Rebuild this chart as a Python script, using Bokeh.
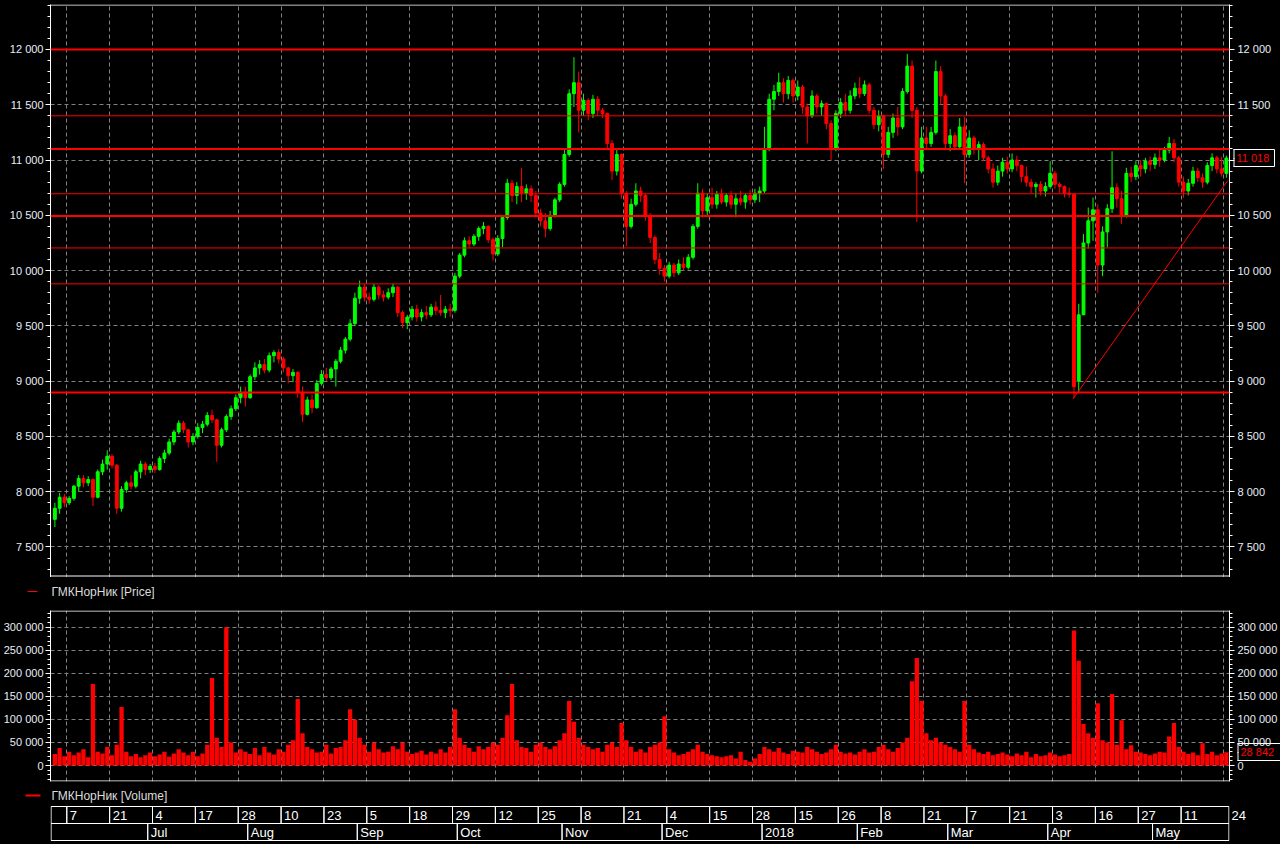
from bokeh.plotting import figure
from bokeh.layouts import column
from bokeh.models import (ColumnDataSource, Range1d, LinearAxis, FixedTicker, Grid, Span)
from bokeh.embed import file_html
from bokeh.resources import INLINE
from bokeh.core.properties import value

# ---------------- data (daily bars, 2 Jun 2017 .. 24 May 2018) ----------------
open_ = [7750, 7850, 7950, 7900, 7940, 8050, 8120, 8080, 8110, 7950,
         8180, 8250, 8320, 8240, 7850, 8020, 8080, 8050, 8180, 8250,
         8200, 8230, 8200, 8300, 8350, 8450, 8540, 8620, 8560, 8450,
         8500, 8580, 8610, 8690, 8650, 8420, 8560, 8680, 8750, 8850,
         8900, 8850, 9040, 9120, 9150, 9100, 9230, 9260, 9200, 9120,
         9050, 9080, 8900, 8700, 8830, 8760, 8980, 9060, 9030, 9110,
         9180, 9280, 9380, 9520, 9750, 9850, 9760, 9740, 9850, 9780,
         9760, 9800, 9850, 9620, 9530, 9580, 9650, 9580, 9620, 9600,
         9670, 9640, 9620, 9650, 9640, 9950, 10140, 10270, 10240, 10310,
         10380, 10400, 10280, 10150, 10290, 10480, 10790, 10680, 10760, 10700,
         10740, 10680, 10520, 10450, 10380, 10500, 10640, 10780, 11050, 11600,
         11700, 11450, 11540, 11420, 11550, 11450, 11420, 11150, 10900, 11050,
         10700, 10400, 10600, 10720, 10680, 10500, 10300, 10100, 10020, 9950,
         10050, 9980, 10060, 10030, 10120, 10400, 10700, 10540, 10660, 10600,
         10690, 10620, 10680, 10600, 10650, 10620, 10680, 10640, 10700, 10720,
         11100, 11550, 11620, 11700, 11600, 11720, 11580, 11660, 11480, 11400,
         11580, 11480, 11510, 11330, 11100, 11420, 11520, 11450, 11580, 11650,
         11600, 11680, 11450, 11320, 11400, 11050, 11250, 11380, 11300, 11620,
         11850, 11450, 10900, 11200, 11150, 11250, 11800, 11580, 11150, 11220,
         11120, 11300, 11050, 11200, 11100, 11140, 11020, 10920, 10800, 10900,
         10980, 10920, 11000, 10950, 10850, 10800, 10760, 10780, 10720, 10760,
         10880, 10780, 10760, 10700, 10690, 9000, 9600, 10250, 10450, 10550,
         10050, 10350, 10560, 10750, 10650, 10500, 10880, 10850, 10950, 10920,
         10990, 10960, 11020, 11000, 11090, 11150, 11020, 10800, 10720, 10790,
         10900, 10840, 10800, 10950, 11020, 10920, 10880]
high_ = [7900, 7990, 7980, 7960, 8060, 8150, 8150, 8140, 8120, 8200,
         8290, 8375, 8340, 8250, 8050, 8100, 8150, 8200, 8280, 8270,
         8250, 8260, 8320, 8380, 8480, 8560, 8645, 8640, 8570, 8530,
         8620, 8640, 8720, 8740, 8660, 8580, 8700, 8780, 8880, 8950,
         8950, 9060, 9170, 9190, 9200, 9260, 9280, 9290, 9220, 9130,
         9110, 9090, 8950, 8860, 8880, 9010, 9100, 9120, 9130, 9200,
         9310, 9400, 9560, 9800, 9910, 9880, 9800, 9880, 9870, 9820,
         9840, 9880, 9860, 9640, 9600, 9680, 9690, 9650, 9680, 9700,
         9720, 9780, 9680, 9700, 9980, 10160, 10300, 10310, 10330, 10400,
         10440, 10410, 10300, 10320, 10500, 10830, 10820, 10800, 10930, 10780,
         10770, 10720, 10560, 10520, 10540, 10660, 10800, 11090, 11640, 11930,
         11800, 11600, 11560, 11590, 11580, 11470, 11430, 11180, 11100, 11060,
         10720, 10650, 10790, 10760, 10700, 10520, 10320, 10160, 10050, 10080,
         10070, 10100, 10120, 10150, 10420, 10790, 10740, 10700, 10750, 10720,
         10740, 10700, 10720, 10700, 10720, 10700, 10730, 10740, 10760, 11300,
         11600, 11680, 11790, 11740, 11760, 11740, 11720, 11680, 11510, 11630,
         11600, 11540, 11520, 11360, 11450, 11560, 11600, 11630, 11700, 11750,
         11720, 11700, 11480, 11450, 11410, 11300, 11420, 11480, 11650, 11960,
         11900, 11480, 11300, 11300, 11300, 11900, 11850, 11600, 11280, 11250,
         11380, 11390, 11270, 11220, 11170, 11160, 11040, 10970, 10950, 11020,
         11030, 11060, 11040, 10960, 10940, 10830, 10800, 10810, 10800, 10990,
         10900, 10800, 10770, 10750, 10700, 9700, 10330, 10570, 10660, 10600,
         10400, 10600, 11080, 10790, 10720, 10930, 10940, 10990, 11000, 11020,
         11030, 11060, 11110, 11120, 11210, 11190, 11040, 10850, 10830, 10940,
         10930, 10880, 10980, 11060, 11040, 11030, 11040]
low_ = [7680, 7800, 7860, 7880, 7920, 8000, 8040, 8050, 7870, 7940,
        8150, 8200, 8210, 7800, 7820, 7990, 8020, 8030, 8120, 8150,
        8170, 8170, 8190, 8260, 8330, 8420, 8520, 8530, 8400, 8420,
        8480, 8530, 8590, 8620, 8270, 8400, 8540, 8650, 8730, 8800,
        8770, 8840, 9010, 9060, 9070, 9080, 9170, 9160, 9080, 8980,
        8990, 8850, 8630, 8690, 8710, 8750, 8960, 9000, 9010, 8950,
        9160, 9250, 9360, 9500, 9700, 9720, 9700, 9720, 9740, 9720,
        9740, 9760, 9580, 9480, 9470, 9550, 9540, 9540, 9560, 9580,
        9600, 9590, 9570, 9580, 9620, 9930, 10120, 10200, 10220, 10270,
        10330, 10250, 10090, 10130, 10210, 10460, 10620, 10600, 10620, 10640,
        10620, 10480, 10400, 10300, 10360, 10480, 10620, 10760, 11030, 11480,
        11250, 11400, 11360, 11380, 11400, 11380, 11090, 10820, 10860, 10650,
        10220, 10380, 10580, 10620, 10450, 10250, 10060, 9960, 9900, 9930,
        9940, 9960, 10000, 10010, 10100, 10380, 10480, 10500, 10560, 10560,
        10600, 10580, 10560, 10480, 10590, 10560, 10600, 10610, 10620, 10700,
        11080, 11450, 11580, 11520, 11550, 11520, 11540, 11420, 11150, 11380,
        11420, 11400, 11280, 11000, 11080, 11380, 11400, 11420, 11550, 11560,
        11580, 11420, 11280, 11260, 10920, 11020, 11200, 11220, 11280, 11600,
        11380, 10440, 10880, 11100, 11120, 11230, 11500, 11100, 11080, 11090,
        11100, 10790, 11020, 11050, 11000, 10990, 10880, 10750, 10770, 10850,
        10880, 10890, 10900, 10800, 10760, 10700, 10660, 10680, 10670, 10740,
        10740, 10700, 10660, 10660, 8845, 8900, 9600, 10200, 10270, 9800,
        9950, 10210, 10520, 10570, 10420, 10480, 10800, 10820, 10850, 10880,
        10900, 10920, 10940, 10980, 11060, 10980, 10760, 10660, 10680, 10760,
        10800, 10750, 10780, 10900, 10880, 10850, 10840]
close_ = [7850, 7950, 7900, 7940, 8050, 8120, 8080, 8110, 7950, 8180,
          8250, 8320, 8240, 7850, 8020, 8080, 8050, 8180, 8250, 8200,
          8230, 8200, 8300, 8350, 8450, 8540, 8620, 8560, 8450, 8500,
          8580, 8610, 8690, 8650, 8420, 8560, 8680, 8750, 8850, 8900,
          8850, 9040, 9120, 9150, 9100, 9230, 9260, 9200, 9120, 9050,
          9080, 8900, 8700, 8830, 8760, 8980, 9060, 9030, 9110, 9180,
          9280, 9380, 9520, 9750, 9850, 9760, 9740, 9850, 9780, 9760,
          9800, 9850, 9620, 9530, 9580, 9650, 9580, 9620, 9600, 9670,
          9640, 9620, 9650, 9640, 9950, 10140, 10270, 10240, 10310, 10380,
          10400, 10280, 10150, 10290, 10480, 10790, 10680, 10760, 10700, 10740,
          10680, 10520, 10450, 10380, 10500, 10640, 10780, 11050, 11600, 11700,
          11450, 11540, 11420, 11550, 11450, 11420, 11150, 10900, 11050, 10700,
          10400, 10600, 10720, 10680, 10500, 10300, 10100, 10020, 9950, 10050,
          9980, 10060, 10030, 10120, 10400, 10700, 10540, 10660, 10600, 10690,
          10620, 10680, 10600, 10650, 10620, 10680, 10640, 10700, 10720, 11100,
          11550, 11620, 11700, 11600, 11720, 11580, 11660, 11480, 11400, 11580,
          11480, 11510, 11330, 11100, 11420, 11520, 11450, 11580, 11650, 11600,
          11680, 11450, 11320, 11400, 11050, 11250, 11380, 11300, 11620, 11850,
          11450, 10900, 11200, 11150, 11250, 11800, 11580, 11150, 11220, 11120,
          11300, 11050, 11200, 11100, 11140, 11020, 10920, 10800, 10900, 10980,
          10920, 11000, 10950, 10850, 10800, 10760, 10780, 10720, 10760, 10880,
          10780, 10760, 10700, 10690, 8950, 9600, 10250, 10450, 10550, 10050,
          10350, 10560, 10750, 10650, 10500, 10880, 10850, 10950, 10920, 10990,
          10960, 11020, 11000, 11090, 11150, 11020, 10800, 10720, 10790, 10900,
          10840, 10800, 10950, 11020, 10920, 10880, 11018]
volume = [25000, 38000, 20000, 30000, 22000, 28000, 35000, 18000, 177000, 30000,
          26000, 40000, 22000, 45000, 127000, 30000, 20000, 25000, 18000, 22000,
          28000, 20000, 24000, 30000, 19000, 26000, 35000, 28000, 22000, 30000,
          20000, 26000, 45000, 190000, 60000, 40000, 300000, 50000, 28000, 35000,
          30000, 25000, 38000, 22000, 40000, 28000, 24000, 35000, 30000, 45000,
          55000, 144000, 70000, 40000, 35000, 28000, 30000, 45000, 26000, 38000,
          40000, 55000, 122000, 100000, 60000, 45000, 30000, 50000, 35000, 28000,
          30000, 42000, 35000, 50000, 30000, 25000, 28000, 32000, 24000, 30000,
          26000, 35000, 28000, 40000, 122000, 60000, 45000, 38000, 30000, 42000,
          35000, 40000, 50000, 45000, 60000, 109000, 177000, 55000, 40000, 38000,
          30000, 45000, 50000, 40000, 35000, 42000, 55000, 70000, 140000, 95000,
          60000, 45000, 40000, 35000, 38000, 30000, 45000, 50000, 40000, 92000,
          55000, 40000, 30000, 35000, 28000, 40000, 45000, 50000, 107000, 35000,
          28000, 22000, 25000, 30000, 35000, 45000, 30000, 25000, 22000, 20000,
          18000, 20000, 22000, 15000, 30000, 12000, 8000, 15000, 25000, 40000,
          35000, 30000, 38000, 28000, 25000, 32000, 30000, 28000, 40000, 35000,
          30000, 25000, 28000, 35000, 45000, 30000, 26000, 28000, 24000, 30000,
          35000, 28000, 30000, 40000, 45000, 35000, 30000, 38000, 50000, 60000,
          183000, 233000, 140000, 70000, 55000, 60000, 50000, 45000, 40000, 35000,
          30000, 140000, 45000, 35000, 28000, 25000, 30000, 22000, 25000, 28000,
          24000, 20000, 26000, 22000, 30000, 18000, 25000, 20000, 22000, 28000,
          24000, 20000, 22000, 25000, 293000, 227000, 90000, 70000, 60000, 135000,
          55000, 50000, 155000, 45000, 98000, 35000, 44000, 30000, 28000, 25000,
          22000, 26000, 30000, 28000, 63000, 92000, 40000, 30000, 25000, 28000,
          22000, 48000, 25000, 30000, 22000, 26000, 28842]

# date axis (bar index of the labelled day)
tick_bars = [3, 12, 21, 30, 39, 48, 57, 66, 75, 84, 93, 102, 111, 120, 129, 138,
             147, 156, 165, 174, 183, 192, 201, 210, 219, 228, 237, 246]
tick_labels = ["7", "21", "4", "17", "28", "10", "23", "5", "18", "29", "12", "25", "8",
               "21", "4", "15", "28", "15", "26", "8", "21", "7", "21", "3", "16", "27",
               "11", "24"]
month_bars = [20, 41, 64, 85, 107, 128, 149, 169, 188, 209, 231]
month_labels = ["Jul", "Aug", "Sep", "Oct", "Nov", "Dec", "2018", "Feb", "Mar", "Apr", "May"]

# drawn levels and trend line
levels = [12000, 11400, 11100, 10695, 10495, 10205, 9880, 8897]
level_widths = [2, 1, 2, 1, 2, 1, 1, 2]
trend_x = [213.8, 246.3]
trend_y = [8840, 10814]

price_ticks = [7500, 8000, 8500, 9000, 9500, 10000, 10500, 11000, 11500, 12000]
vol_ticks = [0, 50000, 100000, 150000, 200000, 250000, 300000]
series_names = ["ГМКНорНик [Price]", "ГМКНорНик [Volume]"]

# ---------------- styling ----------------
BG = "#000000"
FONT = "Liberation Sans"
LABEL_COL = "#e8eef8"
GRID_COL = "#808080"
W = 1280
LB, RB = 49, 49
x_lo, x_hi = -0.92, 246.66


def fmt(v):
    return f"{int(round(v)):,}".replace(",", " ")


def style_axis(ax, standoff=2):
    ax.axis_line_color = "white"
    ax.major_tick_line_color = "white"
    ax.minor_tick_line_color = "white"
    ax.major_tick_in = 0
    ax.major_tick_out = 5
    ax.minor_tick_in = 0
    ax.minor_tick_out = 3
    ax.major_label_text_color = LABEL_COL
    ax.major_label_text_font = FONT
    ax.major_label_text_font_size = "11px"
    ax.major_label_standoff = standoff


def value_tag(fig, yv, units_per_px, standoff):
    """last-value tag: a second right axis whose single red label is pulled back over
    the first axis' label column and boxed by its own ticks and axis line"""
    half = 8.5 * units_per_px
    lo, hi = yv - half, yv + half
    n_edge = 17
    edge = [lo + (hi - lo) * k / n_edge for k in range(n_edge + 1)]
    ticks = sorted(set(edge + [yv]))
    labels = {t: "" for t in ticks}
    labels[yv] = fmt(yv)
    left = -standoff + 3                 # box left edge, px back from the axis line
    ax = LinearAxis(ticker=FixedTicker(ticks=ticks, minor_ticks=[lo, hi]),
                    major_label_overrides=labels, bounds=(lo, hi))
    ax.axis_line_color = "white"
    ax.major_tick_line_color = "white"
    ax.major_tick_in = left
    ax.major_tick_out = -(left - 1)
    ax.minor_tick_line_color = "white"
    ax.minor_tick_in = left
    ax.minor_tick_out = 0
    ax.major_label_text_color = "#ff0000"
    ax.major_label_text_font = FONT
    ax.major_label_text_font_size = "11px"
    ax.major_label_standoff = standoff
    fig.add_layout(ax, "right")


def swatch(fig, yv, out, inn, width):
    """red legend swatch: a single tick of a left axis, left of the frame"""
    ax = LinearAxis(ticker=FixedTicker(ticks=[yv], minor_ticks=[]),
                    major_label_overrides={yv: ""})
    ax.axis_line_color = None
    ax.minor_tick_line_color = None
    ax.major_tick_line_color = "#ff0000"
    ax.major_tick_line_width = width
    ax.major_tick_out = out
    ax.major_tick_in = inn
    ax.major_label_standoff = 0
    fig.add_layout(ax, "left")


def panel(h, xr, yr, top=0, bottom=0, fill=BG):
    f = figure(width=W, height=h, x_range=xr, y_range=yr, output_backend="svg",
               toolbar_location=None, x_axis_location=None, y_axis_location=None,
               min_border_left=LB, min_border_right=RB, min_border_top=top,
               min_border_bottom=bottom, background_fill_color=fill,
               border_fill_color=fill, outline_line_color=None)
    f.center = [c for c in f.center if not isinstance(c, Grid)]
    return f


n = len(close_)
xs = list(range(n))
colors = ["#00ff00" if c >= o else "#ff0000" for o, c in zip(open_, close_)]
src = ColumnDataSource(dict(
    x=xs, h=high_, l=low_,
    top=[max(o, c) for o, c in zip(open_, close_)],
    bot=[min(o, c) for o, c in zip(open_, close_)],
    color=colors))

grid_x = [t - 0.5 for t in tick_bars]

# ---------------- price panel (page y 0..576, frame 4..576) ----------------
P_TOP, P_BOT = 12407, 7224
p_px = (P_TOP - P_BOT) / 573.0
pp = panel(577, Range1d(x_lo, x_hi), Range1d(P_BOT, P_TOP), top=4)
pp.add_layout(Grid(dimension=0, ticker=FixedTicker(ticks=grid_x),
                   grid_line_color=GRID_COL, grid_line_dash="4 3"))
pp.add_layout(Grid(dimension=1, ticker=FixedTicker(ticks=price_ticks),
                   grid_line_color=GRID_COL, grid_line_dash="4 3"))
p_minor = list(range(7300, 12500, 100))
for side in ("left", "right"):
    labels = {t: fmt(t) for t in price_ticks}
    if side == "right":
        labels[11000] = ""          # hidden behind the last-price tag
    ax = LinearAxis(ticker=FixedTicker(ticks=price_ticks, minor_ticks=p_minor),
                    major_label_overrides=labels)
    style_axis(ax, 2 if side == "left" else 3)
    pp.add_layout(ax, side)
value_tag(pp, close_[-1], p_px, -38)
for loc in (P_TOP - 0.5 * p_px, P_BOT + 1.5 * p_px):
    pp.add_layout(Span(location=loc, dimension="width", line_color="white", line_width=1))

pp.segment(x0="x", y0="l", x1="x", y1="h", line_color="color", line_width=1, source=src)
pp.vbar(x="x", width=0.6, top="top", bottom="bot", fill_color="color",
        line_color="color", line_width=1, source=src)
for lv, lw in zip(levels, level_widths):
    pp.add_layout(Span(location=lv, dimension="width", line_color="#ff0000", line_width=lw))
pp.line(trend_x, trend_y, line_color="#ff0000", line_width=1)

# ---------------- price legend strip (page y 577..600) ----------------
s1 = panel(24, Range1d(x_lo, x_hi), Range1d(601, 577))
swatch(s1, 591, 23, -13, 1)
s1.text(x=[x_lo], y=[591], text=[series_names[0]], x_offset=1, text_color="#dcdcdc",
        text_font=value(FONT), text_font_size="12px", text_baseline="middle")

# ---------------- separator lines ----------------
sep_w = panel(1, Range1d(0, 1), Range1d(0, 1), fill="#ffffff")
sep_g = panel(1, Range1d(0, 1), Range1d(0, 1), fill="#a0a0a0")

# ---------------- volume panel (page y 603..781, frame 610..781) ----------------
V_TOP, V_BOT = 336200, -34700
v_px = (V_TOP - V_BOT) / 171.0
pv = panel(179, Range1d(x_lo, x_hi), Range1d(V_BOT, V_TOP), top=7, bottom=1)
pv.add_layout(Grid(dimension=0, ticker=FixedTicker(ticks=grid_x),
                   grid_line_color=GRID_COL, grid_line_dash="4 3"))
pv.add_layout(Grid(dimension=1, ticker=FixedTicker(ticks=vol_ticks),
                   grid_line_color=GRID_COL, grid_line_dash="4 3"))
v_minor = list(range(-30000, 340000, 10000))
for side in ("left", "right"):
    ax = LinearAxis(ticker=FixedTicker(ticks=vol_ticks, minor_ticks=v_minor),
                    major_label_overrides={t: fmt(t) for t in vol_ticks})
    style_axis(ax, 2 if side == "left" else 3)
    pv.add_layout(ax, side)
value_tag(pv, volume[-1], v_px, -40)
pv.vbar(x=xs, width=0.9, top=volume, bottom=0, fill_color="#ff0000", line_color=None)
for loc in (V_TOP - 0.5 * v_px, V_BOT + 0.5 * v_px):
    pv.add_layout(Span(location=loc, dimension="width", line_color="white", line_width=1))

# ---------------- volume legend + date axis (page y 782..841) ----------------
s2 = panel(60, Range1d(x_lo, x_hi), Range1d(842, 782))
swatch(s2, 795, 25, -10, 2)
s2.text(x=[x_lo], y=[795], text=[series_names[1]], x_offset=1, text_color="#dcdcdc",
        text_font=value(FONT), text_font_size="12px", text_baseline="middle")

eps = 0.12
row1 = [x_lo + eps] + grid_x[:-1] + [x_hi - eps]
s2.quad(left=row1[:-1], right=row1[1:], top=806, bottom=823,
        fill_alpha=0, line_color="white", line_width=1)
s2.text(x=grid_x[:-1], y=815, text=tick_labels[:-1], x_offset=3, text_color="white",
        text_font=value(FONT), text_font_size="13px", text_baseline="middle")
last_day = LinearAxis(ticker=FixedTicker(ticks=[815], minor_ticks=[]),
                      major_label_overrides={815: tick_labels[-1]})
last_day.axis_line_color = None
last_day.major_tick_line_color = None
last_day.minor_tick_line_color = None
last_day.major_tick_out = 0
last_day.major_tick_in = 0
last_day.major_label_standoff = 2
last_day.major_label_text_color = "white"
last_day.major_label_text_font = FONT
last_day.major_label_text_font_size = "13px"
s2.add_layout(last_day, "right")

row2 = [x_lo + eps] + [m - 0.5 for m in month_bars] + [x_hi - eps]
s2.quad(left=row2[:-1], right=row2[1:], top=823, bottom=840,
        fill_alpha=0, line_color="white", line_width=1)
s2.text(x=[m - 0.5 for m in month_bars], y=832, text=month_labels, x_offset=3,
        text_color="white", text_font=value(FONT), text_font_size="13px",
        text_baseline="middle")

layout = column(pp, s1, sep_w, sep_g, pv, s2, spacing=0,
                styles={"background-color": BG})
html = file_html(layout, INLINE, title="ГМКНорНик")
html = html.replace("</head>",
                    "<style>html, body { background-color: #000000; }</style></head>", 1)
open("out.html", "w").write(html)
